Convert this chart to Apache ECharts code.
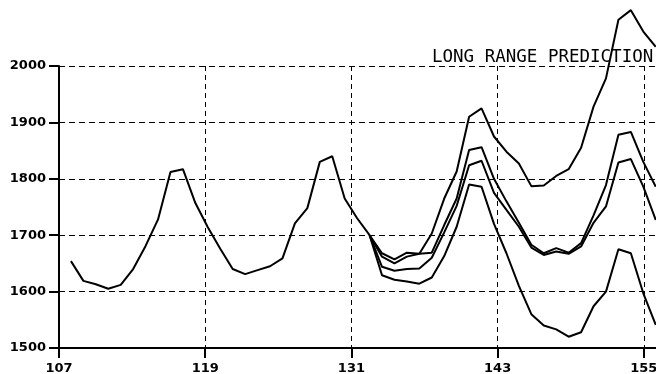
<!DOCTYPE html>
<html>
<head>
<meta charset="utf-8">
<script src="https://cdn.jsdelivr.net/npm/echarts@6/dist/echarts.min.js"></script>
<style>
html,body{margin:0;padding:0;background:#fff;}
#chart{width:656px;height:374px;}
</style>
</head>
<body>
<div id="chart"></div>
<script>
// x-axis tick labels (months)
const xTicks = [107, 119, 131, 143, 155];
const yTicks = [1500, 1600, 1700, 1800, 1900, 2000];
const title = "LONG RANGE PREDICTION";

// observed series: month index 0..24
const observed = [1654,1619,1613,1605,1612,1640,1681,1728,1812,1817,1757,1714,1676,1640,1631,1638,1645,1659,1721,1748,1830,1840,1765,1730,1700];

// forecasts: month index 24..47
const forecastStart = 24;
const forecastA = [1700,1668,1657,1669,1667,1703,1765,1813,1910,1925,1875,1848,1827,1787,1788,1805,1817,1855,1928,1978,2082,2099,2061,2034];
const forecastB = [1700,1662,1650,1662,1667,1669,1718,1765,1851,1856,1800,1760,1722,1683,1668,1677,1669,1686,1735,1789,1878,1883,1830,1786];
const forecastC = [1700,1644,1637,1640,1641,1660,1705,1752,1824,1832,1775,1745,1715,1678,1665,1671,1667,1680,1722,1751,1829,1835,1786,1727];
const forecastD = [1700,1629,1621,1618,1614,1625,1663,1715,1790,1786,1720,1668,1610,1560,1540,1533,1520,1528,1574,1600,1675,1668,1597,1541];

function pairs(arr, start) { return arr.map((v, i) => [start + i, v]); }

const labelFont = { fontFamily: 'DejaVu Sans', fontWeight: 'bold', fontSize: 13, color: '#000' };
const lineStyle = { color: '#000', width: 2 };

function mkSeries(arr, start) {
  return {
    type: 'line', xAxisIndex: 1, yAxisIndex: 0,
    data: pairs(arr, start), symbol: 'none', clip: false,
    lineStyle: lineStyle, silent: true, animation: false
  };
}

const chart = echarts.init(document.getElementById('chart'), null, { renderer: 'canvas' });
chart.setOption({
  animation: false,
  backgroundColor: '#fff',
  grid: { left: 59, top: 66, right: 0, height: 282, containLabel: false, outerBoundsMode: 'none' },
  xAxis: [
    {
      type: 'value', min: xTicks[0], max: 156,
      axisLine: { show: true, onZero: false, lineStyle: { color: '#000', width: 2 } },
      axisTick: { show: true, length: 10, customValues: xTicks, lineStyle: { color: '#000', width: 2 } },
      axisLabel: Object.assign({ margin: 14, customValues: xTicks,
        formatter: v => String(v) }, labelFont),
      splitLine: { show: true, lineStyle: { color: '#000', width: 1, type: [5, 4] } }
    },
    { type: 'value', min: -0.96, max: 47.02, show: false, axisLine: { onZero: false } }
  ],
  yAxis: {
    type: 'value', min: yTicks[0], max: yTicks[yTicks.length - 1], interval: 100,
    axisLine: { show: true, onZero: false, lineStyle: { color: '#000', width: 2 } },
    axisTick: { show: true, length: 10, lineStyle: { color: '#000', width: 2 } },
    axisLabel: Object.assign({ margin: 13, formatter: v => String(v) }, labelFont),
    splitLine: { show: true, lineStyle: { color: '#000', width: 1, type: [6, 4] } }
  },
  graphic: [{
    type: 'text', left: 432, top: 48, silent: true,
    style: { text: title, font: '17.5px "DejaVu Sans Mono"', fill: '#000' }
  }],
  series: [
    mkSeries(observed, 0),
    mkSeries(forecastA, forecastStart),
    mkSeries(forecastB, forecastStart),
    mkSeries(forecastC, forecastStart),
    mkSeries(forecastD, forecastStart)
  ]
});
</script>
</body>
</html>
